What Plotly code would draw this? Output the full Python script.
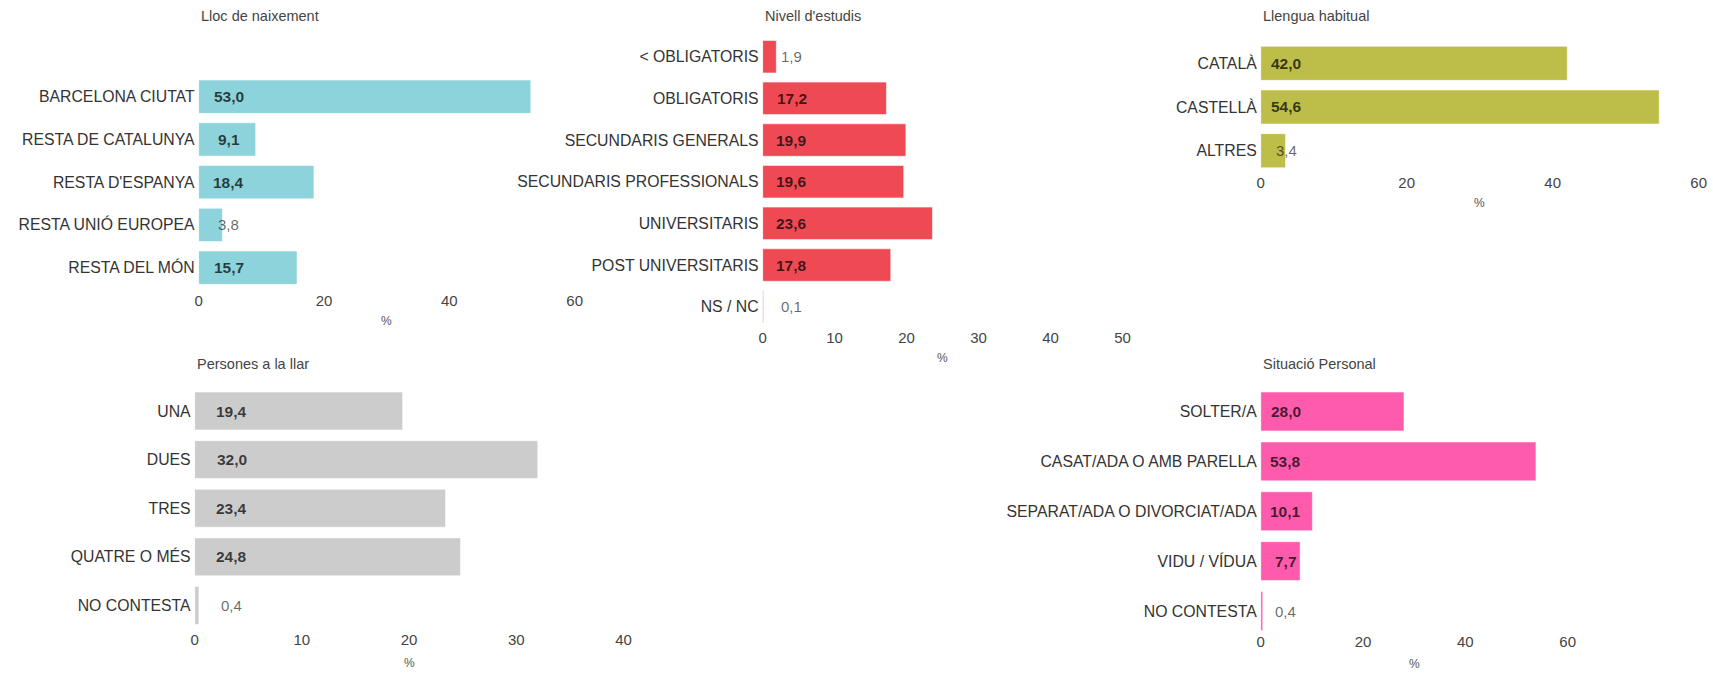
import plotly.graph_objects as go

W, H = 1713, 673

# ---------------- data ----------------
lloc_cats = ["BARCELONA CIUTAT", "RESTA DE CATALUNYA", "RESTA D'ESPANYA", "RESTA UNIÓ EUROPEA", "RESTA DEL MÓN"]
lloc_vals = [53.0, 9.1, 18.4, 3.8, 15.7]

estudis_cats = ["< OBLIGATORIS", "OBLIGATORIS", "SECUNDARIS GENERALS", "SECUNDARIS PROFESSIONALS",
                "UNIVERSITARIS", "POST UNIVERSITARIS", "NS / NC"]
estudis_vals = [1.9, 17.2, 19.9, 19.6, 23.6, 17.8, 0.1]

llengua_cats = ["CATALÀ", "CASTELLÀ", "ALTRES"]
llengua_vals = [42.0, 54.6, 3.4]

llar_cats = ["UNA", "DUES", "TRES", "QUATRE O MÉS", "NO CONTESTA"]
llar_vals = [19.4, 32.0, 23.4, 24.8, 0.4]

situacio_cats = ["SOLTER/A", "CASAT/ADA O AMB PARELLA", "SEPARAT/ADA O DIVORCIAT/ADA", "VIDU / VÍDUA", "NO CONTESTA"]
situacio_vals = [28.0, 53.8, 10.1, 7.7, 0.4]

# ---------------- layout / style per panel (pixel geometry) ----------------
# rows = (first row centre, last row centre) in px ; bottom = axis bottom in px
panels = [
    dict(title="Lloc de naixement", cats=lloc_cats, vals=lloc_vals, color="#8DD3DB",
         px_x=(196.0, 574.7), rows=(96.7, 267.7), bottom=289.5, xmax=60, dtick=20,
         lab_dx=30, title_y=16, pct_y=321),
    dict(title="Nivell d'estudis", cats=estudis_cats, vals=estudis_vals, color="#EF4A54",
         px_x=(764.0, 1126.4), rows=(56.7, 306.7), bottom=326.5, xmax=50, dtick=10,
         lab_dx=29, title_y=16, pct_y=358),
    dict(title="Llengua habitual", cats=llengua_cats, vals=llengua_vals, color="#BDBD4A",
         px_x=(1265.6, 1706.6), rows=(63.3, 150.7), bottom=171.5, xmax=60, dtick=20,
         lab_dx=25.5, title_y=16, pct_y=203),
    dict(title="Persones a la llar", cats=llar_cats, vals=llar_vals, color="#CCCCCC",
         px_x=(192.0, 623.9), rows=(411.0, 605.5), bottom=629.0, xmax=40, dtick=10,
         lab_dx=37, title_y=364, pct_y=663),
    dict(title="Situació Personal", cats=situacio_cats, vals=situacio_vals, color="#FF5BAC",
         px_x=(1265.6, 1574.7), rows=(411.5, 611.0), bottom=631.0, xmax=60, dtick=20,
         lab_dx=25, title_y=364, pct_y=664),
]

FONT = "Liberation Sans, Arial, sans-serif"

def fx(px):
    return px / W

def fy(py):
    return 1 - py / H

fig = go.Figure()
annotations = []
layout = {}

for i, p in enumerate(panels, start=1):
    xa = "x" if i == 1 else f"x{i}"
    ya = "y" if i == 1 else f"y{i}"
    n = len(p["cats"])
    first, last = p["rows"]
    step = (last - first) / (n - 1)
    top = first - 0.6 * step
    pad_bot = (p["bottom"] - last) / step
    x0, x1 = p["px_x"]
    ppu = (x1 - x0) / p["xmax"]

    fig.add_trace(go.Bar(
        x=p["vals"], y=p["cats"], orientation="h", xaxis=xa, yaxis=ya,
        marker=dict(color=p["color"], line=dict(color="rgba(255,255,255,0.55)", width=1)),
        width=0.78, showlegend=False, hoverinfo="x+y", cliponaxis=False,
    ))
    layout["xaxis" if i == 1 else f"xaxis{i}"] = dict(
        domain=[fx(x0), fx(x1)], anchor=ya,
        range=[0, p["xmax"]], dtick=p["dtick"], tick0=0,
        showgrid=False, zeroline=False, showline=False, ticks="",
        tickfont=dict(family=FONT, size=15, color="#444444"),
    )
    layout["yaxis" if i == 1 else f"yaxis{i}"] = dict(
        domain=[fy(p["bottom"]), fy(top)], anchor=xa,
        type="category", categoryorder="array", categoryarray=p["cats"],
        range=[n - 1 + pad_bot, -0.6],
        showgrid=False, zeroline=False, showline=False, ticks="",
        tickfont=dict(family=FONT, size=15.8, color="#333333"),
        ticklabelstandoff=3,
    )
    # panel title
    annotations.append(dict(
        text=p["title"], xref="paper", yref="paper", x=fx(x0), y=fy(p["title_y"]),
        xanchor="left", yanchor="middle", showarrow=False,
        font=dict(family=FONT, size=14.5, color="#444444"),
    ))
    # axis title
    annotations.append(dict(
        text="%", xref="paper", yref="paper", x=fx((x0 + x1) / 2), y=fy(p["pct_y"]),
        xanchor="center", yanchor="middle", showarrow=False,
        font=dict(family=FONT, size=12, color="#555555"),
    ))
    # value labels
    for c, v in zip(p["cats"], p["vals"]):
        inside = v * ppu >= p["lab_dx"] + 12
        annotations.append(dict(
            text=f"{v:.1f}".replace(".", ","), xref=xa, yref=ya, x=0, y=c,
            xshift=p["lab_dx"], xanchor="center", yanchor="middle", showarrow=False,
            font=dict(family=FONT, size=15.5 if inside else 15,
                      color="rgba(0,0,0,0.72)" if inside else "rgba(0,0,0,0.6)",
                      weight="bold" if inside else "normal"),
        ))

fig.update_layout(
    width=W, height=H, margin=dict(l=0, r=0, t=0, b=0),
    paper_bgcolor="white", plot_bgcolor="white",
    annotations=annotations, bargap=0.2,
    **layout,
)

fig.write_html("out.html", config={"displayModeBar": False})
